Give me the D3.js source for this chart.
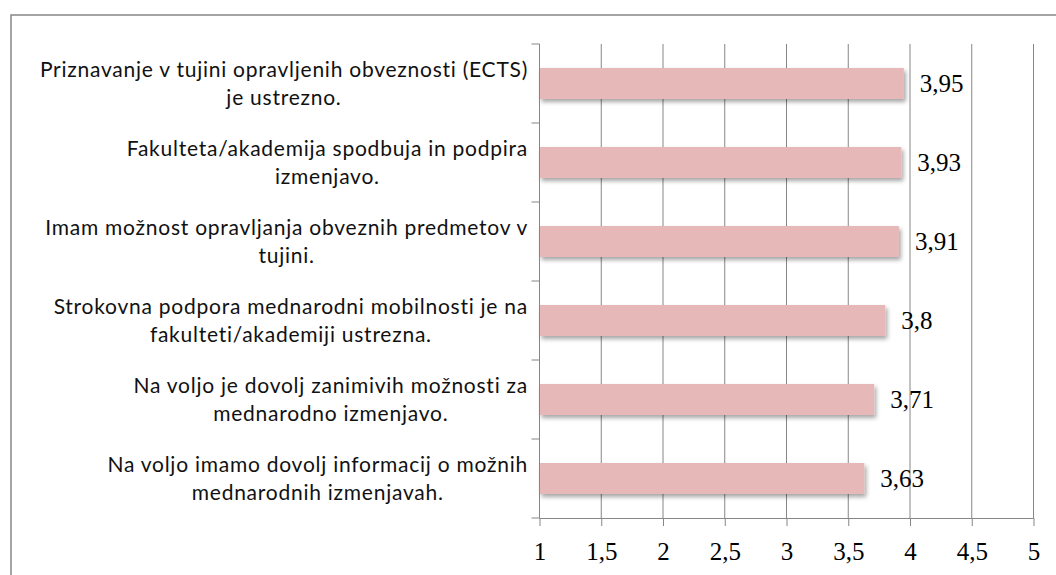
<!DOCTYPE html>
<html>
<head>
<meta charset="utf-8">
<script src="https://cdn.jsdelivr.net/npm/d3@7"></script>
<style>
  body { margin: 0; background: #fff; }
  svg { display: block; }
</style>
</head>
<body>
<div id="plot"></div>
<script>
// statements, top to bottom
const categories = [
  ["Priznavanje v tujini opravljenih obveznosti (ECTS)", "je ustrezno."],
  ["Fakulteta/akademija spodbuja in podpira", "izmenjavo."],
  ["Imam možnost opravljanja obveznih predmetov v", "tujini."],
  ["Strokovna podpora mednarodni mobilnosti je na", "fakulteti/akademiji ustrezna."],
  ["Na voljo je dovolj zanimivih možnosti za", "mednarodno izmenjavo."],
  ["Na voljo imamo dovolj informacij o možnih", "mednarodnih izmenjavah."]
];
const values = [3.95, 3.93, 3.91, 3.8, 3.71, 3.63];
const tickValues = [1, 1.5, 2, 2.5, 3, 3.5, 4, 4.5, 5];

const width = 1056, height = 575;
const plotLeft = 539.5, plotRight = 1033.5, plotTop = 44, plotBottom = 518;

const svg = d3.select("#plot").append("svg")
  .attr("width", width)
  .attr("height", height);

// bar shadow
const defs = svg.append("defs");
const f = defs.append("filter").attr("id", "shadow")
  .attr("x", "-5%").attr("y", "-30%").attr("width", "115%").attr("height", "180%");
f.append("feDropShadow")
  .attr("dx", 2).attr("dy", 3).attr("stdDeviation", 2)
  .attr("flood-color", "#000").attr("flood-opacity", 0.35);

// outer frame
svg.append("rect")
  .attr("x", 11).attr("y", 15)
  .attr("width", 1100).attr("height", 620)
  .attr("fill", "none")
  .attr("stroke", "#868686")
  .attr("stroke-width", 1.5);

const x = d3.scaleLinear().domain([1, 5]).range([plotLeft, plotRight]);
const y = d3.scaleBand().domain(d3.range(categories.length)).range([plotTop, plotBottom]);

// vertical gridlines
svg.append("g")
  .selectAll("line")
  .data(tickValues.slice(1))
  .enter().append("line")
  .attr("x1", d => x(d)).attr("x2", d => x(d))
  .attr("y1", plotTop).attr("y2", plotBottom)
  .attr("stroke", "#868686")
  .attr("stroke-width", 1);

// bars
const barH = 31;
svg.append("g")
  .selectAll("rect")
  .data(values)
  .enter().append("rect")
  .attr("x", x(1))
  .attr("y", (d, i) => y(i) + y.bandwidth() / 2 - barH / 2)
  .attr("width", d => x(d) - x(1))
  .attr("height", barH)
  .attr("fill", "#e6b9b8")
  .attr("filter", "url(#shadow)");

// x axis
const xAxis = d3.axisBottom(x)
  .tickValues(tickValues)
  .tickSize(8)
  .tickFormat(d => String(d).replace(".", ","));

const gx = svg.append("g")
  .attr("transform", `translate(0,${plotBottom})`)
  .call(xAxis);
gx.select(".domain").attr("stroke", "#868686").attr("d", `M${plotLeft},0.5H${plotRight}`);
gx.selectAll(".tick line").attr("stroke", "#868686");
gx.selectAll(".tick text")
  .attr("y", 24)
  .attr("fill", "#000")
  .attr("font-family", "'Liberation Serif', serif")
  .attr("font-size", "25px");

// y axis line and category ticks
svg.append("line")
  .attr("x1", plotLeft).attr("x2", plotLeft)
  .attr("y1", plotTop).attr("y2", plotBottom)
  .attr("stroke", "#868686");
svg.append("g")
  .selectAll("line")
  .data(d3.range(categories.length + 1))
  .enter().append("line")
  .attr("x1", plotLeft - 8).attr("x2", plotLeft)
  .attr("y1", d => plotTop + d * y.step()).attr("y2", d => plotTop + d * y.step())
  .attr("stroke", "#868686");

// category labels, block right-aligned, lines centred
const labelRight = 528;
const lineH = 28;
categories.forEach((lines, i) => {
  const cy = y(i) + y.bandwidth() / 2;
  const g = svg.append("g");
  const texts = lines.map((t, j) => g.append("text")
    .attr("y", cy + (j - (lines.length - 1) / 2) * lineH)
    .attr("dy", "0.35em")
    .attr("text-anchor", "middle")
    .attr("font-family", "Lato, 'Open Sans', sans-serif")
    .attr("font-size", "21px")
    .attr("letter-spacing", "0.75px")
    .attr("fill", "#111")
    .text(t));
  const w = d3.max(texts, t => t.node().getComputedTextLength());
  texts.forEach(t => t.attr("x", labelRight - w / 2));
});

// value labels
svg.append("g")
  .selectAll("text")
  .data(values)
  .enter().append("text")
  .attr("x", d => x(d) + 16)
  .attr("y", (d, i) => y(i) + y.bandwidth() / 2)
  .attr("dy", "0.35em")
  .attr("font-family", "'Liberation Serif', serif")
  .attr("font-size", "25px")
  .attr("fill", "#000")
  .text(d => String(d).replace(".", ","));
</script>
</body>
</html>
